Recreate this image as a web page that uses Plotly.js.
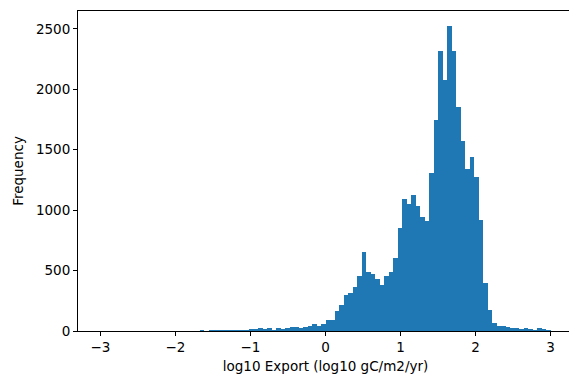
<!DOCTYPE html>
<html>
<head>
<meta charset="utf-8">
<script src="https://cdn.plot.ly/plotly-3.0.1.min.js"></script>
<style>
html, body { margin: 0; padding: 0; overflow: hidden; background: #fff; }
#chart { width: 574px; height: 379px; }
</style>
</head>
<body>
<div id="chart"></div>
<script>
// Histogram: 100 bins of width 0.06 from -3 to 3
const binStart = -3;
const binWidth = 0.06;
const counts = [
  0, 0, 0, 0, 0, 0, 0, 0, 0, 0,          // -3.00 .. -2.46
  0, 0, 0, 0, 3, 1, 2, 1, 3, 1,          // -2.40 .. -1.86
  1, 4, 5, 4, 5, 9, 10, 9, 11, 10,       // -1.80 .. -1.26
  12, 11, 12, 20, 19, 21, 20, 21, 12, 28, // -1.20 .. -0.66
  20, 28, 37, 36, 28, 37, 45, 54, 45, 54, // -0.60 .. -0.06
  95, 95, 169, 219, 301, 318, 367, 458, 656, 491, // 0.00 .. 0.54
  474, 433, 384, 458, 491, 606, 854, 1093, 1052, 1126, // 0.60 .. 1.14
  1035, 945, 911, 1308, 1745, 2314, 2075, 2521, 2314, 1852, // 1.20 .. 1.74
  1572, 1341, 1440, 1275, 920, 400, 177, 70, 45, 44, // 1.80 .. 2.34
  29, 28, 21, 20, 21, 20, 12, 21, 20, 12   // 2.40 .. 2.94
];
const xTickVals = [-3, -2, -1, 0, 1, 2, 3];
const yTickVals = [0, 500, 1000, 1500, 2000, 2500];
const xLabel = 'log10 Export (log10 gC/m2/yr)';
const yLabel = 'Frequency';

const centers = counts.map((_, i) => binStart + binWidth * (i + 0.5));
const ymax = Math.max(...counts) * 1.05;
const xmin = binStart - 0.05 * binWidth * counts.length;
const xmax = binStart + binWidth * counts.length + 0.05 * binWidth * counts.length;

const font = { family: 'DejaVu Sans, sans-serif', size: 13.5, color: '#000' };

Plotly.newPlot('chart', [{
  type: 'bar',
  x: centers,
  y: counts,
  width: binWidth,
  marker: { color: '#1f77b4', line: { width: 0 } },
  hoverinfo: 'x+y'
}], {
  width: 574,
  height: 379,
  margin: { l: 78, r: 1, t: 11, b: 48 },
  paper_bgcolor: '#fff',
  plot_bgcolor: '#fff',
  font: font,
  showlegend: false,
  bargap: 0,
  xaxis: {
    range: [xmin, xmax],
    tickvals: xTickVals,
    ticks: 'outside', ticklen: 4, tickwidth: 1, tickcolor: '#000',
    showline: true, linecolor: '#000', linewidth: 1, mirror: true,
    showgrid: false, zeroline: false,
    tickfont: font,
    title: { text: xLabel, font: font, standoff: 7 }
  },
  yaxis: {
    range: [0, ymax],
    tickvals: yTickVals,
    ticks: 'outside', ticklen: 4, tickwidth: 1, tickcolor: '#000',
    showline: true, linecolor: '#000', linewidth: 1, mirror: true,
    showgrid: false, zeroline: false,
    tickfont: font,
    title: { text: yLabel, font: font, standoff: 9 }
  }
}, { displayModeBar: false, staticPlot: true });
</script>
</body>
</html>
